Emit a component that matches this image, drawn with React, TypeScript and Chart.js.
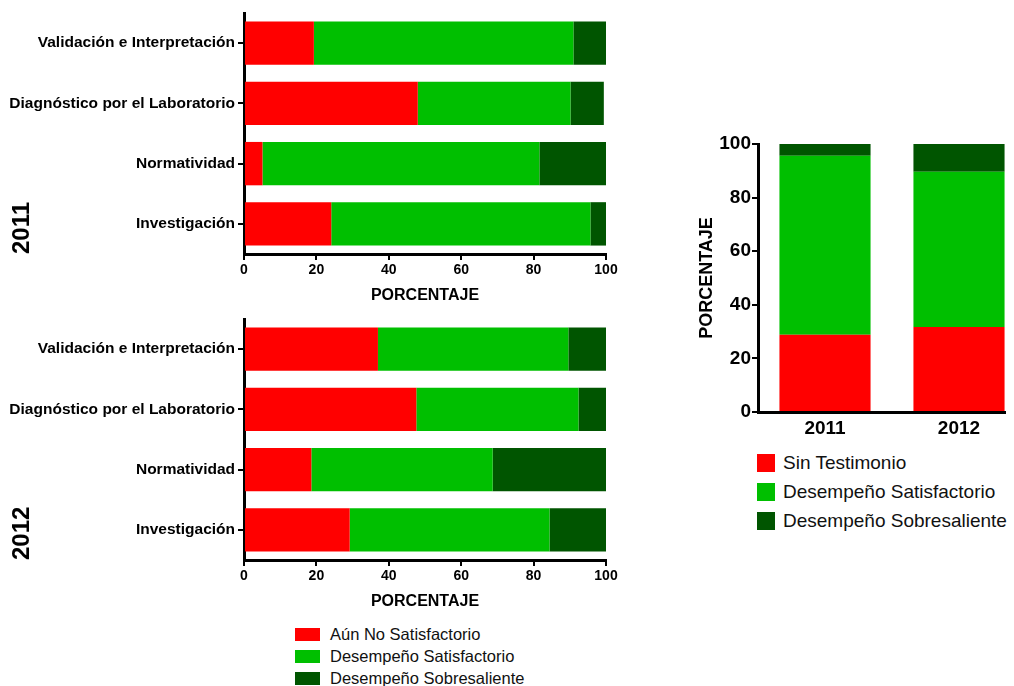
import React, { useEffect, useRef } from 'react';
import { Chart, registerables } from 'chart.js';
Chart.register(...registerables);

const areas = ['Validación e Interpretación', 'Diagnóstico por el Laboratorio', 'Normatividad', 'Investigación'];
const aun2011 = [19.3, 48.0, 5.1, 24.1];
const sat2011 = [71.7, 42.2, 76.5, 71.6];
const sob2011 = [9.0, 9.2, 18.4, 4.3];
const aun2012 = [37.0, 47.6, 18.6, 29.2];
const sat2012 = [52.6, 44.8, 50.1, 55.2];
const sob2012 = [10.4, 7.6, 31.3, 15.6];
const years = ['2011', '2012'];
const sinTestimonio = [28.8, 31.7];
const satTotal = [66.8, 57.9];
const sobTotal = [4.4, 10.4];
const pctTicks = [0, 20, 40, 60, 80, 100];
const areaLegend = ['Aún No Satisfactorio', 'Desempeño Satisfactorio', 'Desempeño Sobresaliente'];
const totalLegend = ['Sin Testimonio', 'Desempeño Satisfactorio', 'Desempeño Sobresaliente'];
const COLORS = ['#FF0000', '#00BF00', '#005500'];
const FONT = '"Liberation Sans", Arial, Helvetica, sans-serif';

const setPctTicks = (s: any) => {
  s.ticks = pctTicks.map((v) => ({ value: v }));
};

function AreaChart({ values, yearLabel }: { values: number[][]; yearLabel: string }) {
  const ref = useRef<HTMLCanvasElement>(null);
  useEffect(() => {
    const chart = new Chart(ref.current as HTMLCanvasElement, {
      type: 'bar',
      data: {
        labels: areas,
        datasets: values.map((v, i) => ({
          label: areaLegend[i],
          data: v,
          backgroundColor: COLORS[i],
          borderWidth: 0,
          barPercentage: 0.72,
          categoryPercentage: 1,
        })),
      },
      options: {
        indexAxis: 'y',
        responsive: false,
        animation: false,
        layout: { padding: { top: 13, right: 34, left: 0, bottom: 0 } },
        plugins: { legend: { display: false }, tooltip: { enabled: false } },
        scales: {
          x: {
            type: 'linear',
            stacked: true,
            min: 0,
            max: 100,
            afterBuildTicks: setPctTicks,
            afterFit: (s: any) => {
              s.height = 56;
            },
            border: { display: true, color: '#000', width: 3 },
            grid: { display: true, drawOnChartArea: false, drawTicks: true, tickLength: 6, color: '#000', lineWidth: 2 },
            ticks: { color: '#000', font: { family: FONT, size: 14, weight: 'bold' }, padding: 2, maxRotation: 0 },
            title: {
              display: true,
              text: 'PORCENTAJE',
              color: '#000',
              font: { family: FONT, size: 16, weight: 'bold' },
              padding: { top: 0, bottom: 5 },
            },
          },
          y: {
            type: 'category',
            stacked: true,
            afterFit: (s: any) => {
              s.width = 244;
            },
            border: { display: true, color: '#000', width: 3 },
            grid: { display: true, offset: false, drawOnChartArea: false, drawTicks: true, tickLength: 6, color: '#000', lineWidth: 2 },
            ticks: { color: '#000', font: { family: FONT, size: 15.5, weight: 'bold' }, padding: 3 },
            title: {
              display: true,
              text: yearLabel,
              align: 'start',
              color: '#000',
              font: { family: FONT, size: 24, weight: 'bold' },
              padding: { top: 8, bottom: 0 },
            },
          },
        },
      } as any,
    });
    return () => chart.destroy();
  }, []);
  return <canvas ref={ref} width={640} height={310} style={{ display: 'block' }} />;
}

function TotalChart() {
  const ref = useRef<HTMLCanvasElement>(null);
  useEffect(() => {
    const series = [sinTestimonio, satTotal, sobTotal];
    const chart = new Chart(ref.current as HTMLCanvasElement, {
      type: 'bar',
      data: {
        labels: years,
        datasets: series.map((v, i) => ({
          label: totalLegend[i],
          data: v,
          backgroundColor: COLORS[i],
          borderWidth: 0,
          barPercentage: 0.68,
          categoryPercentage: 1,
        })),
      },
      options: {
        responsive: false,
        animation: false,
        layout: { padding: { top: 24, right: 14, left: 0, bottom: 0 } },
        plugins: { legend: { display: false }, tooltip: { enabled: false } },
        scales: {
          x: {
            type: 'category',
            stacked: true,
            afterFit: (s: any) => {
              s.height = 38;
            },
            border: { display: true, color: '#000', width: 3 },
            grid: { display: false, drawTicks: false },
            ticks: { color: '#000', font: { family: FONT, size: 19, weight: 'bold' }, padding: 5 },
          },
          y: {
            type: 'linear',
            stacked: true,
            min: 0,
            max: 100,
            afterBuildTicks: setPctTicks,
            afterFit: (s: any) => {
              s.width = 78;
            },
            border: { display: true, color: '#000', width: 3 },
            grid: { display: true, drawOnChartArea: false, drawTicks: true, tickLength: 6, color: '#000', lineWidth: 2 },
            ticks: { color: '#000', font: { family: FONT, size: 19, weight: 'bold' }, padding: 1 },
            title: {
              display: true,
              text: 'PORCENTAJE',
              color: '#000',
              font: { family: FONT, size: 18, weight: 'bold' },
              padding: { top: 16, bottom: 0 },
            },
          },
        },
      } as any,
    });
    return () => chart.destroy();
  }, []);
  return <canvas ref={ref} width={360} height={330} style={{ display: 'block' }} />;
}

function Legend({ items, left, centers, sw, sh, gap, size }: { items: string[]; left: number; centers: number[]; sw: number; sh: number; gap: number; size: number }) {
  return (
    <>
      {items.map((t, i) => (
        <div
          key={t}
          style={{
            position: 'absolute',
            left,
            top: centers[i] - 12,
            height: 24,
            display: 'flex',
            alignItems: 'center',
            fontFamily: FONT,
            fontSize: size,
            color: '#111',
            whiteSpace: 'nowrap',
          }}
        >
          <span style={{ display: 'inline-block', width: sw, height: sh, background: COLORS[i], marginRight: gap }} />
          <span>{t}</span>
        </div>
      ))}
    </>
  );
}

export default function App() {
  return (
    <div style={{ position: 'fixed', left: 0, top: 0, width: 1014, height: 686, overflow: 'hidden', background: '#fff' }}>
      <div style={{ position: 'absolute', left: 0, top: 0 }}>
        <AreaChart values={[aun2011, sat2011, sob2011]} yearLabel={years[0]} />
      </div>
      <div style={{ position: 'absolute', left: 0, top: 306 }}>
        <AreaChart values={[aun2012, sat2012, sob2012]} yearLabel={years[1]} />
      </div>
      <div style={{ position: 'absolute', left: 680, top: 120, width: 326, height: 330, overflow: 'hidden' }}>
        <TotalChart />
      </div>
      <Legend items={areaLegend} left={295} centers={[634.5, 656.5, 678.5]} sw={25} sh={13} gap={10} size={16.5} />
      <Legend items={totalLegend} left={757} centers={[463, 492, 521]} sw={18} sh={18} gap={8} size={19} />
    </div>
  );
}
